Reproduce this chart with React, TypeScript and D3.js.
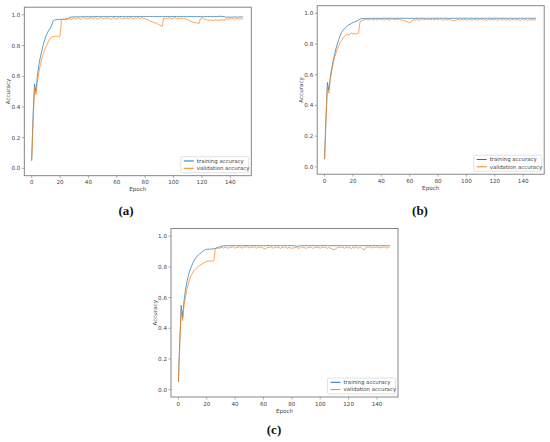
import * as d3 from 'd3';

const WIDTH = 550;
const HEIGHT = 442;

const color = {
  train: '#1f77b4',
  val: '#ff7f0e',
  spine: '#7a7a7a',
  tick: '#444',
};

// epochs 0..149
const epochs = d3.range(150);
const xTicks = [0, 20, 40, 60, 80, 100, 120, 140];
const yTicks = [0, 0.2, 0.4, 0.6, 0.8, 1.0];
const seriesLabels = ['training accuracy', 'validation accuracy'];
const panelLabels = ['(a)', '(b)', '(c)'];

const trainA = [
  0.05, 0.35, 0.55, 0.5, 0.6, 0.67, 0.72, 0.76, 0.8, 0.83, 0.86, 0.88, 0.9, 0.91, 0.93, 0.96, 0.966, 0.968, 0.97, 0.97,
  0.971, 0.97, 0.972, 0.971, 0.973, 0.972, 0.978,
  0.984, 0.986, 0.987, 0.986, 0.988, 0.987, 0.988, 0.986, 0.988, 0.989, 0.987, 0.988, 0.989, 0.988, 0.987, 0.989, 0.988, 0.989, 0.988, 0.99,
  0.988, 0.989, 0.987, 0.989, 0.988, 0.99, 0.989, 0.988, 0.989, 0.99, 0.988, 0.989, 0.99, 0.989, 0.988, 0.99, 0.989, 0.99, 0.989, 0.988,
  0.99, 0.989, 0.99, 0.988, 0.989, 0.99, 0.989, 0.99, 0.988, 0.989, 0.99, 0.989, 0.99, 0.989, 0.99, 0.988, 0.99, 0.989, 0.99, 0.989,
  0.99, 0.989, 0.99, 0.988, 0.989, 0.987, 0.989, 0.99, 0.989, 0.99, 0.988, 0.99, 0.989, 0.99, 0.989, 0.99, 0.988, 0.989, 0.99, 0.989,
  0.99, 0.989, 0.988, 0.99, 0.989, 0.99, 0.989, 0.988, 0.99, 0.989, 0.99, 0.989, 0.99, 0.988, 0.989, 0.99, 0.989, 0.99, 0.989, 0.99,
  0.988, 0.99, 0.989, 0.99, 0.989, 0.99, 0.991, 0.99, 0.989, 0.99, 0.983, 0.985, 0.986, 0.984, 0.986, 0.985, 0.986, 0.987, 0.985, 0.986,
  0.987, 0.986, 0.987,
];

const valA = [
  0.05, 0.3, 0.52, 0.48, 0.56, 0.62, 0.67, 0.71, 0.74, 0.77, 0.79, 0.81, 0.83, 0.845, 0.855, 0.86, 0.858, 0.862, 0.86, 0.858,
  0.862, 0.97, 0.972, 0.968, 0.975, 0.978, 0.972,
  0.975, 0.97, 0.976, 0.98, 0.972, 0.978, 0.982, 0.975, 0.971, 0.979, 0.983, 0.976, 0.972, 0.98, 0.977, 0.983, 0.974, 0.979, 0.982, 0.975,
  0.972, 0.98, 0.984, 0.976, 0.973, 0.981, 0.977, 0.983, 0.975, 0.971, 0.979, 0.982, 0.976, 0.973, 0.98, 0.984, 0.977, 0.974, 0.981, 0.976,
  0.982, 0.975, 0.979, 0.983, 0.977, 0.973, 0.98, 0.978, 0.984, 0.976, 0.979, 0.982, 0.975,
  0.975, 0.972, 0.968, 0.962, 0.958, 0.955, 0.95, 0.948, 0.944, 0.94, 0.936, 0.93, 0.926,
  0.978, 0.975, 0.98, 0.976, 0.982, 0.977, 0.974, 0.98, 0.983, 0.976, 0.979, 0.975, 0.981, 0.977, 0.978, 0.975,
  0.972, 0.968, 0.962, 0.958, 0.955, 0.952, 0.95, 0.948, 0.946, 0.944,
  0.976, 0.981, 0.975, 0.972, 0.969,
  0.966, 0.964, 0.967, 0.965, 0.963, 0.966, 0.968, 0.965, 0.964, 0.967, 0.966, 0.968, 0.965, 0.969,
  0.974, 0.972, 0.976, 0.973, 0.975, 0.971, 0.974, 0.976, 0.972, 0.975, 0.973, 0.974,
];

const trainB = [
  0.05, 0.32, 0.55, 0.5, 0.58, 0.64, 0.69, 0.73, 0.77, 0.8, 0.83, 0.855, 0.875, 0.89, 0.9, 0.91, 0.918, 0.925, 0.93, 0.935,
  0.94, 0.944, 0.948, 0.952, 0.957, 0.963,
  0.966, 0.967, 0.966, 0.968, 0.967, 0.968, 0.967, 0.966, 0.968, 0.967,
  0.968, 0.967, 0.968, 0.966, 0.967, 0.968, 0.969, 0.967, 0.968, 0.967,
  0.968, 0.969, 0.967, 0.968, 0.967, 0.969, 0.968, 0.967, 0.968, 0.969,
  0.967, 0.968, 0.969, 0.968, 0.967, 0.968, 0.969, 0.967, 0.968, 0.969,
  0.968, 0.967, 0.969, 0.968, 0.969, 0.967, 0.968, 0.969, 0.968, 0.967,
  0.969, 0.968, 0.967, 0.969, 0.968, 0.969, 0.968, 0.967, 0.969, 0.968,
  0.969, 0.968, 0.967, 0.968, 0.969, 0.968, 0.967, 0.969, 0.968, 0.969,
  0.968, 0.967, 0.969, 0.968, 0.969, 0.967, 0.968, 0.969, 0.968, 0.967,
  0.969, 0.968, 0.969, 0.967, 0.968, 0.969, 0.968, 0.969, 0.967, 0.968,
  0.969, 0.968, 0.967, 0.969, 0.968, 0.969, 0.968, 0.967, 0.969, 0.968,
  0.969, 0.968, 0.969, 0.967, 0.968, 0.969, 0.968, 0.967, 0.969, 0.968,
  0.967, 0.969, 0.968, 0.969, 0.968, 0.967, 0.969, 0.968, 0.969, 0.968,
  0.967, 0.968, 0.969, 0.968,
];

const valB = [
  0.05, 0.3, 0.52, 0.48, 0.57, 0.62, 0.67, 0.71, 0.74, 0.77, 0.79, 0.81, 0.825, 0.84, 0.85, 0.858, 0.864, 0.86, 0.868, 0.872,
  0.866, 0.87, 0.865, 0.868, 0.872,
  0.945, 0.952, 0.955, 0.958, 0.96,
  0.962, 0.958, 0.961, 0.964, 0.957, 0.96, 0.963, 0.956, 0.961, 0.964,
  0.958, 0.962, 0.955, 0.96, 0.964, 0.959, 0.956, 0.962, 0.965, 0.958,
  0.961, 0.957, 0.963, 0.96, 0.956, 0.958, 0.953, 0.95, 0.946, 0.942,
  0.938, 0.945, 0.955, 0.96, 0.957, 0.962, 0.958, 0.955, 0.961, 0.964,
  0.957, 0.96, 0.963, 0.956, 0.961, 0.958, 0.964, 0.957, 0.96, 0.962,
  0.956, 0.961, 0.964, 0.958, 0.955, 0.962, 0.959, 0.957, 0.963, 0.958,
  0.954, 0.951, 0.953, 0.958, 0.962, 0.956, 0.96, 0.964, 0.957, 0.961,
  0.958, 0.955, 0.962, 0.959, 0.956, 0.963, 0.958, 0.961, 0.955, 0.96,
  0.964, 0.957, 0.961, 0.958, 0.954, 0.96, 0.963, 0.957, 0.961, 0.956,
  0.962, 0.959, 0.955, 0.961, 0.964, 0.957, 0.96, 0.963, 0.956, 0.961,
  0.958, 0.955, 0.962, 0.959, 0.963, 0.956, 0.961, 0.958, 0.954, 0.96,
  0.963, 0.957, 0.961, 0.952, 0.958, 0.962, 0.956, 0.96, 0.957, 0.959,
];

const trainC = [
  0.05, 0.32, 0.55, 0.47, 0.58, 0.65, 0.7, 0.74, 0.775, 0.8, 0.82, 0.84, 0.855, 0.868, 0.876, 0.885, 0.892, 0.9, 0.906, 0.912,
  0.915, 0.914, 0.916, 0.915, 0.917, 0.918, 0.92, 0.924, 0.928, 0.93, 0.932,
  0.936, 0.938, 0.937, 0.938, 0.937, 0.939, 0.938, 0.937, 0.938, 0.939,
  0.937, 0.938, 0.939, 0.938, 0.937, 0.939, 0.938, 0.94, 0.938, 0.937,
  0.939, 0.938, 0.937, 0.939, 0.938, 0.94, 0.938, 0.937, 0.939, 0.938,
  0.937, 0.939, 0.938, 0.94, 0.938, 0.937, 0.939, 0.938, 0.939, 0.937,
  0.938, 0.939, 0.937, 0.938, 0.94, 0.938, 0.937, 0.939, 0.938, 0.939,
  0.937, 0.938, 0.935, 0.934, 0.936, 0.938, 0.939, 0.937, 0.938, 0.939,
  0.938, 0.937, 0.939, 0.938, 0.94, 0.938, 0.937, 0.939, 0.938, 0.937,
  0.939, 0.938, 0.94, 0.938, 0.937, 0.939, 0.938, 0.937, 0.939, 0.938,
  0.937, 0.939, 0.938, 0.94, 0.938, 0.937, 0.939, 0.938, 0.939, 0.937,
  0.938, 0.939, 0.937, 0.938, 0.94, 0.938, 0.937, 0.939, 0.938, 0.939,
  0.937, 0.938, 0.939, 0.938, 0.937, 0.939, 0.938, 0.94, 0.938, 0.937,
  0.939, 0.938, 0.937, 0.939, 0.938, 0.939, 0.937, 0.938, 0.939,
];

const valC = [
  0.05, 0.3, 0.52, 0.45, 0.55, 0.6, 0.65, 0.69, 0.72, 0.745, 0.76, 0.775, 0.785, 0.795, 0.803, 0.81, 0.815, 0.82, 0.826, 0.832,
  0.836, 0.838, 0.837, 0.839, 0.838, 0.84,
  0.918, 0.92, 0.922, 0.921,
  0.925, 0.928, 0.922, 0.93, 0.926, 0.92, 0.929, 0.924, 0.931, 0.927,
  0.921, 0.929, 0.925, 0.932, 0.927, 0.922, 0.93, 0.926, 0.933, 0.928,
  0.923, 0.93, 0.926, 0.932, 0.927, 0.922, 0.929, 0.925, 0.931, 0.926,
  0.921, 0.916, 0.923, 0.929, 0.925, 0.931, 0.926, 0.921, 0.928, 0.924,
  0.93, 0.926, 0.92, 0.928, 0.924, 0.93, 0.925, 0.921, 0.928, 0.924,
  0.919, 0.926, 0.922, 0.929, 0.924, 0.92, 0.927, 0.923, 0.929, 0.925,
  0.92, 0.927, 0.923, 0.93, 0.925, 0.921, 0.928, 0.924, 0.93, 0.926,
  0.921, 0.928, 0.924, 0.93, 0.925, 0.92, 0.927, 0.922, 0.918, 0.914,
  0.912, 0.918, 0.925, 0.929, 0.924, 0.93, 0.926, 0.921, 0.928, 0.923,
  0.929, 0.924, 0.92, 0.927, 0.923, 0.93, 0.925, 0.921, 0.928, 0.922,
  0.915, 0.91, 0.924, 0.93, 0.926, 0.932, 0.927, 0.923, 0.93, 0.926,
  0.931, 0.927, 0.923, 0.929, 0.925, 0.931, 0.926, 0.922, 0.928, 0.925,
];

// plot box of each panel (inside the spines)
const PLOT = { width: 227, height: 168.5 };
const panels = [
  { left: 24.3, top: 7.2, train: trainA, val: valA, label: panelLabels[0], labelX: 126, labelY: 214.5 },
  { left: 317.2, top: 5.7, train: trainB, val: valB, label: panelLabels[1], labelX: 420, labelY: 214.5 },
  { left: 171, top: 228.5, train: trainC, val: valC, label: panelLabels[2], labelX: 274, labelY: 433.5 },
];

const tickFont = 'DejaVu Sans, sans-serif';

const Panel = ({ left, top, train, val }: { left: number; top: number; train: number[]; val: number[] }) => {
  const x = d3.scaleLinear().domain([-5.2, 154.8]).range([0, PLOT.width]);
  const y = d3.scaleLinear().domain([-0.048, 1.05]).range([PLOT.height, 0]);
  const line = d3
    .line<number>()
    .x((_, i) => x(epochs[i]))
    .y(d => y(d));

  const legendX = PLOT.width - 70.5;
  const legendY = PLOT.height - 19;

  return (
    <g transform={`translate(${left},${top})`}>
      <path d={line(train) || ''} fill="none" stroke={color.train} strokeWidth={0.9} strokeOpacity={0.8} />
      <path d={line(val) || ''} fill="none" stroke={color.val} strokeWidth={0.9} strokeOpacity={0.8} />
      <rect x={0} y={0} width={PLOT.width} height={PLOT.height} fill="none" stroke={color.spine} strokeWidth={0.9} />

      {xTicks.map(t => (
        <g key={t} transform={`translate(${x(t)},${PLOT.height})`}>
          <line y2={2.5} stroke={color.spine} strokeWidth={0.6} />
          <text y={8.5} textAnchor="middle" fontSize={5.6} fill={color.tick} fontFamily={tickFont}>
            {t}
          </text>
        </g>
      ))}
      {yTicks.map(t => (
        <g key={t} transform={`translate(0,${y(t)})`}>
          <line x2={-2.5} stroke={color.spine} strokeWidth={0.6} />
          <text x={-4} dy="0.35em" textAnchor="end" fontSize={5.6} fill={color.tick} fontFamily={tickFont}>
            {t.toFixed(1)}
          </text>
        </g>
      ))}

      <text x={PLOT.width / 2} y={PLOT.height + 15.5} textAnchor="middle" fontSize={5.6} fill={color.tick} fontFamily={tickFont}>
        Epoch
      </text>
      <text
        transform={`translate(-14,${PLOT.height / 2}) rotate(-90)`}
        textAnchor="middle"
        fontSize={5.6}
        fill={color.tick}
        fontFamily={tickFont}
      >
        Accuracy
      </text>

      <g transform={`translate(${legendX},${legendY})`}>
        <rect width={68} height={16} rx={1.5} fill="white" fillOpacity={0.85} stroke="#ccc" strokeWidth={0.6} />
        {seriesLabels.map((s, i) => (
          <g key={s} transform={`translate(0,${4.3 + i * 7.3})`}>
            <line x1={3} x2={13} stroke={i === 0 ? color.train : color.val} strokeWidth={1} />
            <text x={16} dy="0.35em" fontSize={5.4} fill={color.tick} fontFamily={tickFont}>
              {s}
            </text>
          </g>
        ))}
      </g>
    </g>
  );
};

export default function App() {
  return (
    <div style={{ position: 'absolute', left: 0, top: 0 }}>
      <svg width={WIDTH} height={HEIGHT} style={{ display: 'block', background: 'white' }}>
        {panels.map(p => (
          <g key={p.label}>
            <Panel left={p.left} top={p.top} train={p.train} val={p.val} />
            <text
              x={p.labelX}
              y={p.labelY}
              textAnchor="middle"
              fontSize={13}
              fontWeight="bold"
              fontFamily="Liberation Serif, serif"
              fill="#111"
            >
              {p.label}
            </text>
          </g>
        ))}
      </svg>
    </div>
  );
}
